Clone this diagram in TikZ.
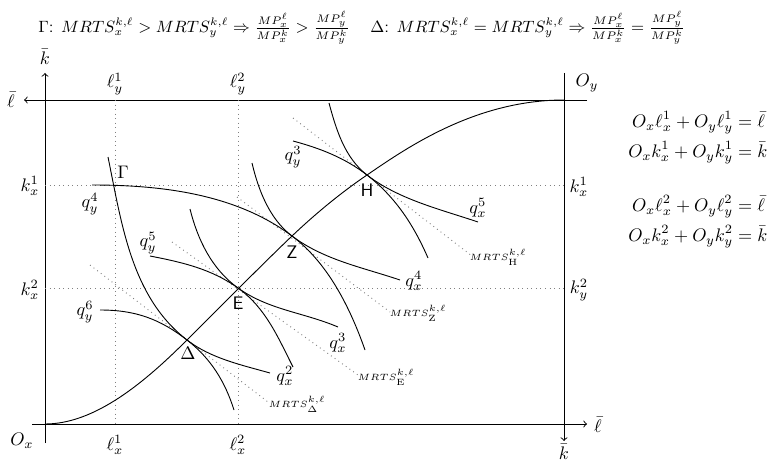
\documentclass[tikz,border=0pt]{standalone}
\usepackage{amsmath}
\renewcommand{\familydefault}{\sfdefault}
\begin{document}
\begin{tikzpicture}[x=0.55pt,y=-0.55pt,
  ax/.style={line width=0.5pt},
  crv/.style={line width=0.5pt},
  gridline/.style={gray,dotted,line width=0.5pt},
  tang/.style={gray,dotted,line width=0.5pt},
  ttl/.style={anchor=west,font=\fontsize{9.1}{11}\selectfont},
  >=to]
\useasboundingbox (0,0) rectangle (773,462);
% key points
\coordinate (Ox) at (45,424);
\coordinate (Oy) at (564,100);
\coordinate (G) at (115,185);
\coordinate (D) at (187,340);
\coordinate (E) at (238,288);
\coordinate (Z) at (292,236);
\coordinate (H) at (367,175);
% axes
\coordinate (topR) at (587,100); \coordinate (topL) at (24,100);
\coordinate (leftB) at (45,443); \coordinate (leftT) at (45,73);
\coordinate (rightT) at (564,73); \coordinate (rightB) at (564,441);
\coordinate (botL) at (32,424); \coordinate (botR) at (587,424);
\draw[ax,->] (topR) -- (topL);
\draw[ax,->] (leftB) -- (leftT);
\draw[ax,->] (rightT) -- (rightB);
\draw[ax,->] (botL) -- (botR);
% grid lines
\coordinate (l1t) at (115,100); \coordinate (l1b) at (115,424);
\coordinate (l2t) at (238,100); \coordinate (l2b) at (238,424);
\coordinate (k1l) at (45,185); \coordinate (k1r) at (564,185);
\coordinate (k2l) at (45,288); \coordinate (k2r) at (564,288);
\draw[gridline] (l1t) -- (l1b);
\draw[gridline] (l2t) -- (l2b);
\draw[gridline] (k1l) -- (k1r);
\draw[gridline] (k2l) -- (k2r);
% tangent lines
\coordinate (tDa) at (90,265); \coordinate (tDb) at (268,402);
\coordinate (tEa) at (172,242); \coordinate (tEb) at (358,375);
\coordinate (tZa) at (237,197); \coordinate (tZb) at (390,312);
\coordinate (tHa) at (293,118); \coordinate (tHb) at (472,256);
\draw[tang] (tDa) -- (tDb);
\draw[tang] (tEa) -- (tEb);
\draw[tang] (tZa) -- (tZb);
\draw[tang] (tHa) -- (tHb);
% contract curve
\draw[crv] (Ox) .. controls (95,424) and (144.6,382.4) .. (D)
  .. controls (211.7,315.3) and (266.6,260.1) .. (Z)
  .. controls (315.2,214) and (340.5,193) .. (H)
  .. controls (404.2,149.7) and (474,100) .. (Oy);
% isoquants through Delta
\draw[crv] (100,310) .. controls (135,310) and (159.4,318.6) .. (D)
  .. controls (210.7,358.3) and (225,381.5) .. (234,410);
\draw[crv] (108,157) .. controls (122,225.6) and (131.7,297.3) .. (D)
  .. controls (210.7,358.3) and (241.2,364.9) .. (270,373);
% through E
\draw[crv] (150,256) .. controls (182.3,262.3) and (211.3,268.9) .. (E)
  .. controls (265.5,307.7) and (277.7,336.7) .. (293,367);
\draw[crv] (190,209) .. controls (197.7,240) and (212.1,269.4) .. (E)
  .. controls (268.8,310) and (303,312.2) .. (338,327);
% through Z
\draw[crv] (92,185) .. controls (162,185) and (236,194) .. (Z)
  .. controls (328,263) and (350.1,307.7) .. (365,350);
\draw[crv] (252,163) .. controls (258.4,190.2) and (269.6,219.2) .. (Z)
  .. controls (324,260) and (362,267.2) .. (400,280);
% through H
\draw[crv] (293,141) .. controls (320.2,148.3) and (344.9,157.9) .. (H)
  .. controls (395.4,197) and (413.6,224.9) .. (428,258);
\draw[crv] (329,103) .. controls (336.3,130.2) and (344.9,157.9) .. (H)
  .. controls (398.6,199.4) and (440,209.2) .. (478,222);
% titles
\node[ttl] (t1) at (32,28) {$\Gamma$: $MRTS_x^{k,\ell} > MRTS_y^{k,\ell} \Rightarrow \frac{MP_x^\ell}{MP_x^k} > \frac{MP_y^\ell}{MP_y^k}$};
\node[ttl] (t2) at (364,28) {$\Delta$: $MRTS_x^{k,\ell} = MRTS_y^{k,\ell} \Rightarrow \frac{MP_x^\ell}{MP_x^k} = \frac{MP_y^\ell}{MP_y^k}$};
% equations
\node[anchor=west] (eqA) at (622,138) {$\begin{aligned} O_x\ell_x^1+O_y\ell_y^1&=\bar\ell\\ O_xk_x^1+O_yk_y^1&=\bar k\end{aligned}$};
\node[anchor=west] (eqB) at (622,222) {$\begin{aligned} O_x\ell_x^2+O_y\ell_y^2&=\bar\ell\\ O_xk_x^2+O_yk_y^2&=\bar k\end{aligned}$};
% axis labels
\node (kbarT) at (45,57) {$\bar k$};
\node (lbarL) at (11,100) {$\bar\ell$};
\node (Oylab) at (587,83) {$O_y$};
\node (Oxlab) at (22,441) {$O_x$};
\node (lbarR) at (598,425) {$\bar\ell$};
\node[inner sep=1pt] (kbarB) at (564,452) {$\bar k$};
\node (ly1) at (115,84) {$\ell_y^1$};
\node (ly2) at (238,84) {$\ell_y^2$};
\node (lx1) at (115,445) {$\ell_x^1$};
\node (lx2) at (238,445) {$\ell_x^2$};
\node (kx1L) at (30,186) {$k_x^1$};
\node (kx2L) at (30,290) {$k_x^2$};
\node (kx1R) at (579,187) {$k_x^1$};
\node (ky2R) at (579,290) {$k_y^2$};
% point labels
\node (Glab) at (123,172) {$\Gamma$};
\node (Hlab) at (367,190) {H};
\node (Zlab) at (292,252) {Z};
\node (Elab) at (238,303) {E};
\node (Dlab) at (188,353) {$\Delta$};
% isoquant labels
\node (qy4) at (90,204) {$q_y^4$};
\node (qy5) at (148,243) {$q_y^5$};
\node (qy6) at (85,312) {$q_y^6$};
\node (qy3) at (293,157) {$q_y^3$};
\node (qx5) at (478,208) {$q_x^5$};
\node (qx4) at (414,281) {$q_x^4$};
\node (qx3) at (338,343) {$q_x^3$};
\node (qx2) at (285,376) {$q_x^2$};
% MRTS labels
\node (mD) at (297,404) {\tiny$MRTS^{k,\ell}_{\Delta}$};
\node (mE) at (386,377) {\tiny$MRTS^{k,\ell}_{\mathrm{E}}$};
\node (mZ) at (418,313) {\tiny$MRTS^{k,\ell}_{\mathrm{Z}}$};
\node (mH) at (498,257) {\tiny$MRTS^{k,\ell}_{\mathrm{H}}$};
\end{tikzpicture}
\end{document}
